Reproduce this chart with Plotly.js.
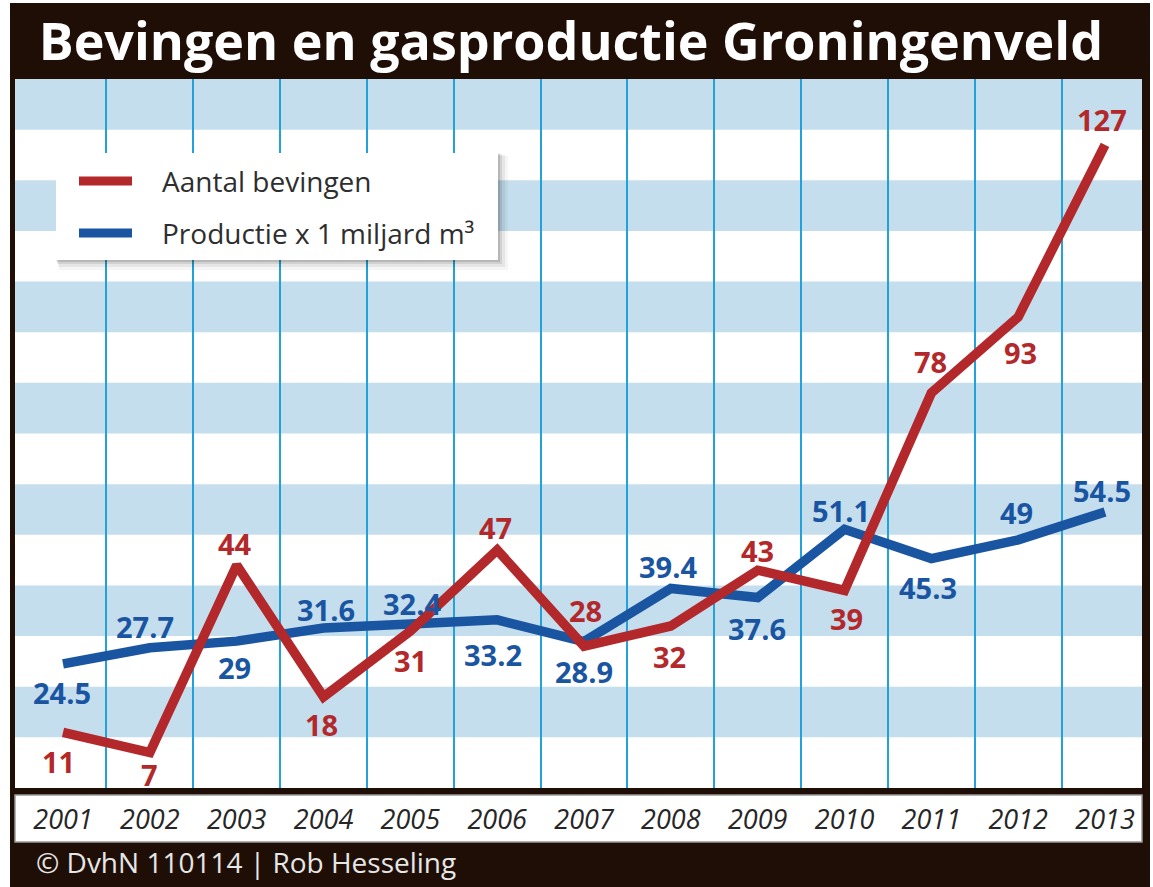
<!DOCTYPE html>
<html>
<head>
<meta charset="utf-8">
<script src="https://cdn.plot.ly/plotly-3.0.1.min.js"></script>
<style>
  html, body { margin: 0; padding: 0; background: #ffffff; }
  #chart { position: absolute; left: 10px; top: 3px; width: 1140px; height: 884px; }
</style>
</head>
<body>
<div id="chart"></div>
<script>
// ---- data ----
const years = [2001, 2002, 2003, 2004, 2005, 2006, 2007, 2008, 2009, 2010, 2011, 2012, 2013];
const yearLabels = ["2001", "2002", "2003", "2004", "2005", "2006", "2007", "2008", "2009", "2010", "2011", "2012", "2013"];
const bevingen = [11, 7, 44, 18, 31, 47, 28, 32, 43, 39, 78, 93, 127];
const productie = [24.5, 27.7, 29, 31.6, 32.4, 33.2, 28.9, 39.4, 37.6, 51.1, 45.3, 49, 54.5];
const seriesNames = ["Aantal bevingen", "Productie x 1 miljard m³"];

// ---- label offsets (pixels, screen direction: +dy = down) ----
const redDx = [-5, 0, -2, -2, 0, -2, 1, -1, 0, 2, -1, 2, -3];
const redDy = [29, 22, -22, 28, 29, -22, -36, 31, -20, 28, -31, 35, -25];
const blueDx = [-1, -5, -2, 2, 2, -4, 0, -3, -1, -4, -3, -2, -3];
const blueDy = [29, -21, 26, -18, -20, 35, 30, -22, 31, -19, 29, -27, -22];

// ---- styles ----
const RED = "#b3282b";
const BLUE = "#1a55a2";
const BAND = "#c4deee";
const GRID = "#22a2d8";
const FRAME = "#1e0e05";
const FONT = "Open Sans, Noto Sans, sans-serif";

// page-pixel helpers for paper-referenced decorations
const PL = 15, PR = 1142, PT = 79, PB = 788;
const px2x = p => (p - PL) / (PR - PL);
const px2y = p => (PB - p) / (PB - PT);

const colors = [RED, BLUE];

const traces = [
  {
    x: years, y: productie, name: seriesNames[1], type: "scatter", mode: "lines",
    line: { color: BLUE, width: 9.5 }, showlegend: false
  },
  {
    x: years, y: bevingen, name: seriesNames[0], type: "scatter", mode: "lines",
    line: { color: RED, width: 9.5 }, showlegend: false
  }
];

const shapes = [];
// alternating horizontal bands
for (let v = 10; v < 140; v += 20) {
  shapes.push({
    type: "rect", xref: "paper", yref: "y", x0: 0, x1: 1, y0: v, y1: v + 10,
    fillcolor: BAND, line: { width: 0 }, layer: "below"
  });
}
// year label strip
shapes.push({
  type: "rect", xref: "paper", yref: "paper",
  x0: 0, x1: 1, y0: px2y(795), y1: px2y(842),
  fillcolor: "#ffffff", line: { color: "#9a9a9a", width: 1.5 }, layer: "below"
});
// legend box with soft shadow
[[10, 0.04], [7, 0.06], [4, 0.09], [2, 0.12]].forEach(([o, a]) => {
  shapes.push({
    type: "rect", xref: "paper", yref: "paper",
    x0: px2x(56 + o * 0.3), x1: px2x(498 + o), y0: px2y(153 + o * 0.3), y1: px2y(260 + o),
    fillcolor: "rgba(0,0,0," + a + ")", line: { width: 0 }, layer: "above"
  });
});
shapes.push({
  type: "rect", xref: "paper", yref: "paper",
  x0: px2x(56), x1: px2x(498), y0: px2y(153), y1: px2y(260),
  fillcolor: "#ffffff", line: { width: 0 }, layer: "above"
});
const legendRows = [181, 233];
seriesNames.forEach((nm, i) => {
  shapes.push({
    type: "line", xref: "paper", yref: "paper",
    x0: px2x(79), x1: px2x(132), y0: px2y(legendRows[i]), y1: px2y(legendRows[i]),
    line: { color: colors[i], width: 9 }, layer: "above"
  });
});

const annotations = [];
seriesNames.forEach((nm, i) => {
  annotations.push({
    xref: "paper", yref: "paper", x: px2x(160), y: px2y(legendRows[i]),
    xanchor: "left", yanchor: "middle", showarrow: false, text: nm,
    font: { family: FONT, size: 28, color: "#2e2e2e" }
  });
});
years.forEach((yr, i) => {
  annotations.push({
    x: yr, y: bevingen[i], xref: "x", yref: "y", text: String(bevingen[i]),
    showarrow: false, xanchor: "center", yanchor: "middle",
    xshift: redDx[i], yshift: -redDy[i],
    font: { family: FONT, size: 29, weight: 700, color: RED }
  });
  annotations.push({
    x: yr, y: productie[i], xref: "x", yref: "y", text: String(productie[i]),
    showarrow: false, xanchor: "center", yanchor: "middle",
    xshift: blueDx[i], yshift: -blueDy[i],
    font: { family: FONT, size: 29, weight: 700, color: BLUE }
  });
});
// footer credit
annotations.push({
  xref: "paper", yref: "paper", x: px2x(34), y: px2y(862),
  xanchor: "left", yanchor: "middle", showarrow: false,
  text: "© DvhN 110114 | Rob Hesseling",
  font: { family: FONT, size: 28, color: "#e6e6e6" }
});

const halfYears = years.slice(0, -1).map(y => y + 0.5);

const layout = {
  width: 1140, height: 884,
  margin: { l: 5, r: 8, t: 76, b: 99, pad: 0 },
  paper_bgcolor: FRAME,
  plot_bgcolor: "#ffffff",
  showlegend: false,
  title: {
    text: "<b>Bevingen en gasproductie Groningenveld</b>",
    font: { family: FONT, size: 52, color: "#ffffff" },
    xref: "container", x: 0.492, xanchor: "center",
    yref: "container", y: 0.956, yanchor: "middle"
  },
  xaxis: {
    range: [2000.447, 2013.426],
    tickmode: "array", tickvals: years, ticktext: yearLabels,
    ticks: "outside", ticklen: 8, tickcolor: "rgba(0,0,0,0)",
    tickfont: { family: FONT, size: 27, style: "italic", color: "#262626" },
    showgrid: false, zeroline: false, showline: false,
    minor: { tickmode: "array", tickvals: halfYears, showgrid: true, gridcolor: GRID, gridwidth: 2, ticks: "" },
    fixedrange: true
  },
  yaxis: {
    range: [0, 140], showgrid: false, zeroline: false, showline: false,
    showticklabels: false, ticks: "", fixedrange: true
  },
  shapes: shapes,
  annotations: annotations
};

Plotly.newPlot("chart", traces, layout, { displayModeBar: false, staticPlot: true });
</script>
</body>
</html>
